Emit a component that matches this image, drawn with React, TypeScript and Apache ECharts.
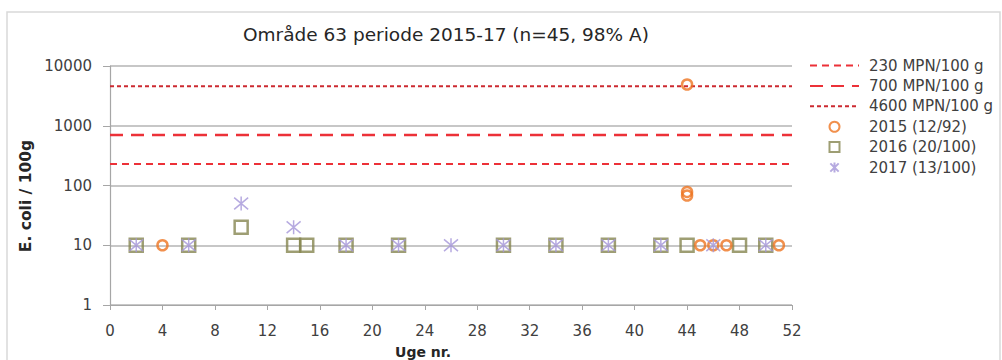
import React, { useEffect, useRef } from "react";
import * as echarts from "echarts";

const TITLE = "Område 63 periode 2015-17 (n=45, 98% A)";
const X_NAME = "Uge nr.";
const Y_NAME = "E. coli / 100g";

const WEEK_MIN = 0;
const WEEK_MAX = 52;
const WEEK_STEP = 4;
const Y_MIN = 1;
const Y_MAX = 10000;

const LIMIT_NAMES = ["230 MPN/100 g", "700 MPN/100 g", "4600 MPN/100 g"];
const LIMIT_VALUES = [230, 700, 4600];

const S2015_NAME = "2015 (12/92)";
const S2015_WEEKS = [4, 44, 44, 44, 45, 46, 47, 51];
const S2015_VALUES = [10, 4900, 78, 68, 10, 10, 10, 10];

const S2016_NAME = "2016 (20/100)";
const S2016_WEEKS = [2, 6, 10, 14, 15, 18, 22, 30, 34, 38, 42, 44, 48, 50];
const S2016_VALUES = [10, 10, 20, 10, 10, 10, 10, 10, 10, 10, 10, 10, 10, 10];

const S2017_NAME = "2017 (13/100)";
const S2017_WEEKS = [2, 6, 10, 14, 18, 22, 26, 30, 34, 38, 42, 46, 50];
const S2017_VALUES = [10, 10, 50, 20, 10, 10, 10, 10, 10, 10, 10, 10, 10];

const FONT = "DejaVu Sans";
const TXT = "#404040";

const pairs = (xs: number[], ys: number[]) => xs.map((x, i) => [x, ys[i]]);

const SQUARE = "path://M0,0L10,0L10,10L0,10Z";
const STAR = "path://M0,0L10,10M10,0L0,10M5,-1L5,11";

export default function App() {
  const ref = useRef<HTMLDivElement>(null);
  useEffect(() => {
    if (!ref.current) return;
    const chart = echarts.init(ref.current, null, { renderer: "svg" });
    const limitStyles = [
      { color: "#ec3138", width: 2, type: [7, 5] },
      { color: "#ec3138", width: 2.5, type: [13, 8] },
      { color: "#cc2a30", width: 2, type: [4, 3] },
    ];
    const limitSeries = LIMIT_NAMES.map((name, i) => ({
      name,
      type: "line",
      symbol: "none",
      silent: true,
      data: [
        [WEEK_MIN, LIMIT_VALUES[i]],
        [WEEK_MAX, LIMIT_VALUES[i]],
      ],
      lineStyle: limitStyles[i],
      itemStyle: { color: limitStyles[i].color },
      z: 2,
    }));
    chart.setOption({
      animation: false,
      backgroundColor: "#ffffff",
      title: {
        text: TITLE,
        left: 243,
        top: 25,
        padding: 0,
        textStyle: { fontFamily: FONT, fontSize: 18.5, fontWeight: "normal", color: "#262626" },
      },
      graphic: [
        {
          type: "rect",
          shape: { x: 7, y: 12, width: 993, height: 360 },
          style: { fill: "none", stroke: "#d9d9d9", lineWidth: 1.5 },
          silent: true,
        },
        {
          type: "text",
          x: 423,
          y: 352,
          style: {
            text: X_NAME,
            fontFamily: FONT,
            fontSize: 14,
            fontWeight: "bold",
            fill: "#262626",
            textAlign: "center",
            textVerticalAlign: "middle",
          },
        },
        {
          type: "text",
          x: 25.5,
          y: 196,
          rotation: Math.PI / 2,
          style: {
            text: Y_NAME,
            fontFamily: FONT,
            fontSize: 15.5,
            fontWeight: "bold",
            fill: "#262626",
            textAlign: "center",
            textVerticalAlign: "middle",
          },
        },
      ],
      legend: {
        orient: "vertical",
        left: 809,
        top: 58,
        padding: 0,
        itemWidth: 49,
        itemHeight: 10,
        itemGap: 5.4,
        textStyle: { fontFamily: FONT, fontSize: 15, color: TXT, lineHeight: 14, padding: [0, 0, 0, 5] },
        data: [
          ...LIMIT_NAMES.map((name) => ({ name, itemStyle: { opacity: 0 } })),
          { name: S2015_NAME },
          { name: S2016_NAME },
          { name: S2017_NAME },
        ],
      },
      grid: { left: 110, right: 210, top: 66, bottom: 55, containLabel: false },
      xAxis: {
        type: "value",
        min: WEEK_MIN,
        max: WEEK_MAX,
        interval: WEEK_STEP,
        axisLine: { lineStyle: { color: "#a6a6a6", width: 1.2 } },
        axisTick: { show: true, length: 5, lineStyle: { color: "#a6a6a6" } },
        axisLabel: { fontFamily: FONT, fontSize: 15, color: TXT, margin: 18 },
        splitLine: { show: false },
      },
      yAxis: {
        type: "log",
        logBase: 10,
        min: Y_MIN,
        max: Y_MAX,
        axisLine: { show: true, lineStyle: { color: "#a6a6a6", width: 1.2 } },
        axisTick: { show: true, length: 7, lineStyle: { color: "#a6a6a6" } },
        axisLabel: {
          fontFamily: FONT,
          fontSize: 15,
          color: TXT,
          margin: 18,
          formatter: (v: number) => String(Math.round(v)),
        },
        splitLine: { show: true, lineStyle: { color: "#b5b5b5", width: 1.5 } },
      },
      series: [
        ...limitSeries,
        {
          name: S2016_NAME,
          type: "scatter",
          symbol: SQUARE,
          symbolSize: 13,
          data: pairs(S2016_WEEKS, S2016_VALUES),
          itemStyle: { color: "rgba(255,255,255,0)", borderColor: "#868650", borderWidth: 2.5 },
          z: 3,
        },
        {
          name: S2015_NAME,
          type: "scatter",
          symbol: "circle",
          symbolSize: 10,
          data: pairs(S2015_WEEKS, S2015_VALUES),
          itemStyle: { color: "rgba(255,255,255,0)", borderColor: "#ee7421", borderWidth: 2.5 },
          z: 4,
        },
        {
          name: S2017_NAME,
          type: "scatter",
          symbol: STAR,
          symbolSize: 14,
          data: pairs(S2017_WEEKS, S2017_VALUES),
          itemStyle: { color: "rgba(255,255,255,0)", borderColor: "#a495d8", borderWidth: 1.5 },
          z: 5,
        },
      ],
    });
    return () => chart.dispose();
  }, []);
  return (
    <div
      ref={ref}
      style={{ position: "absolute", left: 0, top: 0, width: 1002, height: 360, background: "#fff" }}
    />
  );
}
